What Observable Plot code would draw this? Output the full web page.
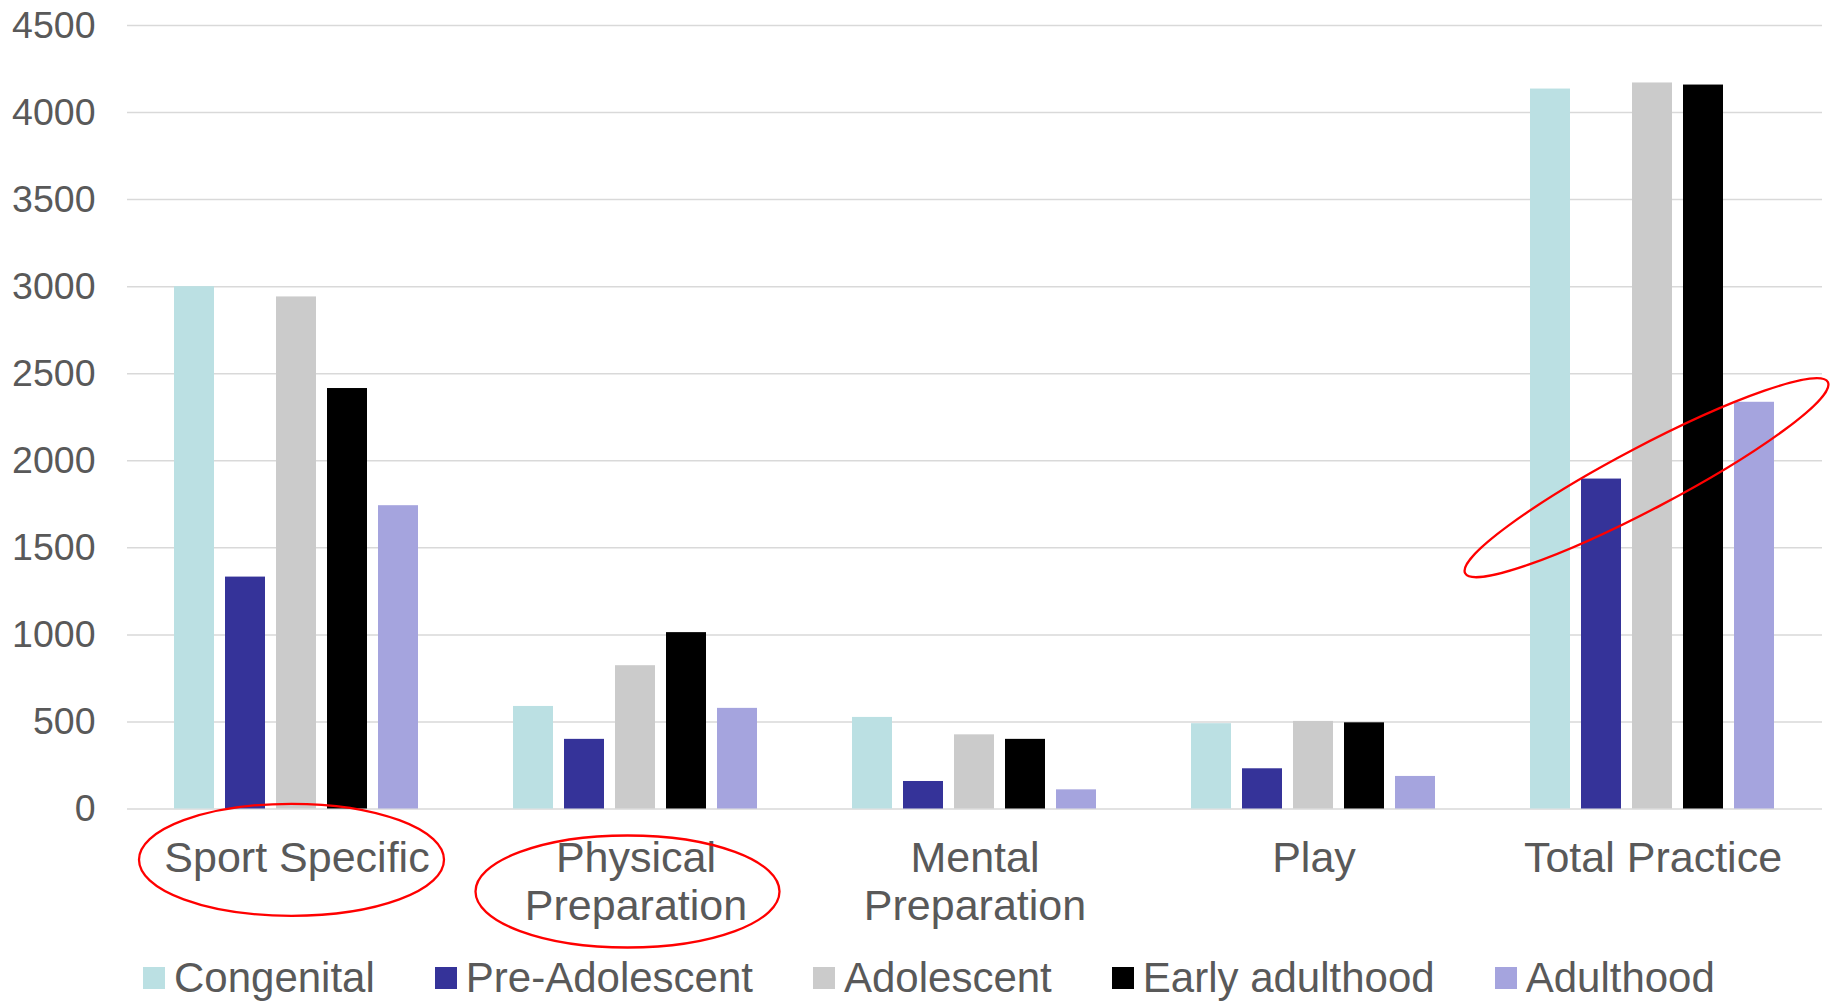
<!DOCTYPE html>
<html><head><meta charset="utf-8">
<script src="https://cdn.jsdelivr.net/npm/d3@7"></script>
<script src="https://cdn.jsdelivr.net/npm/@observablehq/plot@0.6"></script>
<style>
html,body{margin:0;padding:0;background:#fff;}
body{width:1841px;height:1002px;overflow:hidden;font-family:"Liberation Sans",Arial,sans-serif;}
#legend{display:flex;align-items:center;padding-left:143px;padding-top:2px;height:50px;line-height:50px;font-size:42px;color:#595959;white-space:nowrap;}
.item{display:flex;align-items:center;margin-right:60px;}
.sw{width:22px;height:22px;margin-right:9px;flex:none;}
</style></head><body><div id="chart"></div><div id="legend"></div>
<script>
const categories = ["Sport Specific", "Physical Preparation", "Mental Preparation", "Play", "Total Practice"];
const xTickLabels = ["Sport Specific", "Physical\nPreparation", "Mental\nPreparation", "Play", "Total Practice"];
const series = ["Congenital", "Pre-Adolescent", "Adolescent", "Early adulthood", "Adulthood"];
const seriesColors = ["#bbe0e3", "#353399", "#cbcbcb", "#000000", "#a5a4de"];
const congenital = [3000, 589, 526, 490, 4135];
const preAdolescent = [1332, 400, 158, 231, 1895];
const adolescent = [2941, 823, 426, 503, 4170];
const earlyAdulthood = [2415, 1013, 400, 495, 4158];
const adulthood = [1742, 578, 110, 187, 2336];
const yTicks = [0, 500, 1000, 1500, 2000, 2500, 3000, 3500, 4000, 4500];

const valuesBySeries = [congenital, preAdolescent, adolescent, earlyAdulthood, adulthood];
const data = [];
categories.forEach((c, i) => series.forEach((s, j) => data.push({category: c, series: s, value: valuesBySeries[j][i]})));

const chart = Plot.plot({
  width: 1841, height: 951,
  marginLeft: 126, marginRight: 18, marginTop: 25, marginBottom: 142.5,
  style: {fontFamily: "Liberation Sans, Arial, sans-serif", color: "#595959", background: "#fff", overflow: "visible"},
  fx: {domain: categories, padding: 0, label: null},
  x: {domain: series, paddingInner: 0.21, paddingOuter: 0.865, axis: null},
  y: {domain: [0, 4500], label: null},
  color: {domain: series, range: seriesColors},
  marks: [
    Plot.gridY(yTicks, {stroke: "#d9d9d9", strokeOpacity: 1, strokeWidth: 1.5}),
    Plot.barY(data, {fx: "category", x: "series", y: "value", fill: "series"}),
    Plot.axisY(yTicks, {tickSize: 0, tickPadding: 32, fontSize: 37.5, label: null, tickFormat: d => String(d)}),
    Plot.axisFx({anchor: "bottom", tickSize: 0, tickPadding: 29, fontSize: 43, lineHeight: 1.116, label: null,
      tickFormat: d => xTickLabels[categories.indexOf(d)]})
  ]
});
document.getElementById("chart").appendChild(chart);

// red highlight ellipses, anchored on the plot's scales
const fx = chart.scale("fx"), ys = chart.scale("y");
const centerOf = c => fx.apply(c) + fx.bandwidth / 2;
const base = ys.apply(0);
const svg = d3.select(chart);
const ann = [
  {cx: centerOf("Sport Specific") - 5, cy: base + 51.3, rx: 152.5, ry: 56, rot: 0},
  {cx: centerOf("Physical Preparation") - 8, cy: base + 83, rx: 152, ry: 56, rot: 0},
  {cx: centerOf("Total Practice") - 6, cy: ys.apply(1900), rx: 205, ry: 31, rot: -27.8}
];
ann.forEach(a => {
  svg.append("ellipse")
    .attr("cx", 0).attr("cy", 0).attr("rx", a.rx).attr("ry", a.ry)
    .attr("transform", `translate(${a.cx},${a.cy}) rotate(${a.rot})`)
    .attr("fill", "none").attr("stroke", "#ff0000").attr("stroke-width", 2.3);
});

// legend
const legend = d3.select("#legend");
series.forEach((s, i) => {
  const it = legend.append("div").attr("class", "item");
  it.append("div").attr("class", "sw").style("background", seriesColors[i]);
  it.append("span").text(s);
});
</script></body></html>
